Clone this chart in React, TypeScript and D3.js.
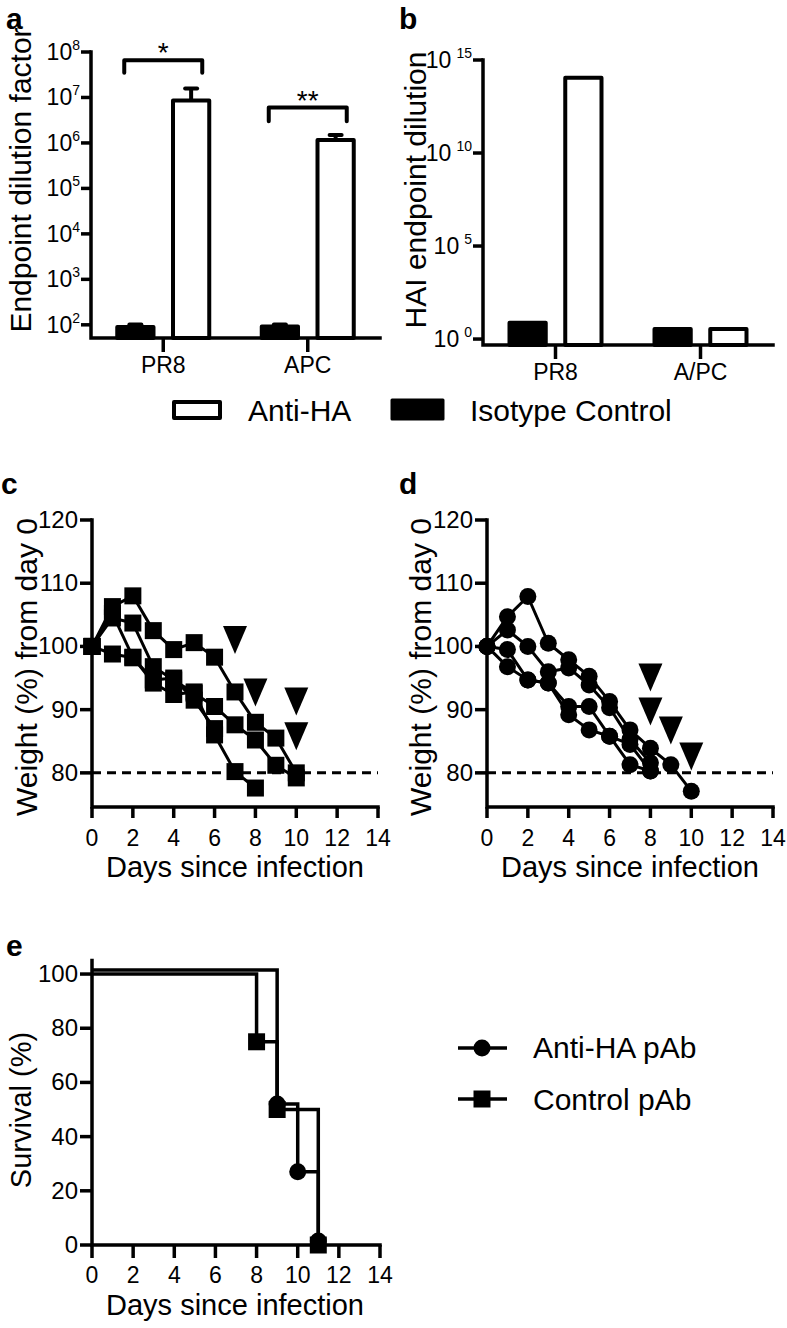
import React from "react";
import * as d3 from "d3";

const FONT = "'Liberation Sans', Arial, Helvetica, sans-serif";

// panel a: endpoint titres (log)
const titerGroups = ["PR8", "APC"];
const barSeries = ["Isotype Control", "Anti-HA"];
const titerIsotype = [90, 92];
const titerIsotypeErr = [102, 102];
const titerAntiHA = [8.6e6, 1.16e6];
const titerAntiHAErr = [1.58e7, 1.5e6];
const titerExponents = [2, 3, 4, 5, 6, 7, 8];
const titerStars = ["*", "**"];
const titerBracketTop = [6.6e7, 6.0e6];
const titerBracketFoot = [3.5e7, 3.0e6];

// panel b: HAI titres (log)
const haiGroups = ["PR8", "A/PC"];
const haiIsotype = [7.5, 3.5];
const haiAntiHA = [1.1e14, 3.5];
const haiExponents = [0, 5, 10, 15];

// panels c, d: weight per mouse
const days = [0, 1, 2, 3, 4, 5, 6, 7, 8, 9, 10];
const dayTicks = [0, 2, 4, 6, 8, 10, 12, 14];
const weightTicks = [80, 90, 100, 110, 120];
const weightCutoff = 80;
const controlMice = [
  [100, 106.3, 108, 102.5, 99.5, 100.6, 98.3, 92.8, 88.0, 85.5, 80],
  [100, 104.5, 103.7, 96.8, 94.7, 92.6, 90.5, 87.6, 85.2, 81.2, 79.2],
  [100, 105.2, 98.3, 94.2, 92.4, 92.8, 86.0, 80.2, 77.6],
  [100, 98.8, 98.2, 94.7, 95.0, 91.5, 87.0],
];
const controlDeathDays = [7, 8, 10, 10];
const controlDeathMarks = [101, 92.7, 91.3, 85.8];
const antiHAMice = [
  [100, 104.7, 107.9, 100.5, 97.9, 95.3, 91.3, 86.8, 83.9, 81.3, 77.1],
  [100, 102.6, 100.0, 96.0, 96.6, 93.9, 90.3, 85.3, 81.6],
  [100, 99.5, 94.7, 94.2, 90.5, 90.5, 85.8, 81.3, 80.3],
  [100, 96.8, 94.7, 94.2, 89.2, 86.8, 85.8, 84.5, 80.3],
];
const antiHADeathDays = [8, 8, 9, 10];
const antiHADeathMarks = [95.1, 89.7, 86.7, 82.6];

// panel e: survival
const survDaysAntiHA = [0, 9, 10, 11];
const survAntiHA = [101.5, 52, 27, 1.5];
const survDaysControl = [0, 8, 9, 11];
const survControl = [100, 75, 50, 0];
const survivalTicks = [0, 20, 40, 60, 80, 100];

const AX = 3.5;
const squarePath = d3.symbol(d3.symbolSquare, 17 * 17)() as string;
const circlePath = d3.symbol(d3.symbolCircle, Math.PI * 8.5 * 8.5)() as string;
const trianglePath = "M-12,-14L12,-14L0,14Z";

function Letter({ x, y, t }: any) {
  return (
    <text x={x} y={y} fontSize={30} fontWeight="bold">
      {t}
    </text>
  );
}

function BarPanel({ left, right, bottom, top, lo, hi, groups, iso, anti, isoErr, antiErr, exponents, gap, catY, extra }: any) {
  const x = d3.scaleBand<string>().domain(groups).range([left, right]);
  const inner = d3.scaleBand<string>().domain(barSeries).range([-46, 46]).paddingInner(0.35);
  const y = d3.scaleLog().domain([lo, hi]).range([bottom, top]);
  const bw = inner.bandwidth();
  return (
    <g>
      {groups.map((g: string, i: number) => {
        const cx = (x(g) as number) + x.bandwidth() / 2;
        const xi = cx + (inner(barSeries[0]) as number);
        const xa = cx + (inner(barSeries[1]) as number);
        return (
          <g key={g}>
            {isoErr && (
              <g stroke="#000" strokeWidth={4}>
                <line x1={xi + bw / 2} x2={xi + bw / 2} y1={y(iso[i])} y2={y(isoErr[i])} />
                <line x1={xi + bw / 2 - 6} x2={xi + bw / 2 + 6} y1={y(isoErr[i])} y2={y(isoErr[i])} strokeLinecap="round" />
              </g>
            )}
            {antiErr && (
              <g stroke="#000" strokeWidth={4}>
                <line x1={xa + bw / 2} x2={xa + bw / 2} y1={y(anti[i])} y2={y(antiErr[i])} />
                <line x1={xa + bw / 2 - 6} x2={xa + bw / 2 + 6} y1={y(antiErr[i])} y2={y(antiErr[i])} strokeLinecap="round" />
              </g>
            )}
            <rect x={xi} y={y(iso[i])} width={bw} height={bottom - y(iso[i])} fill="#000" stroke="#000" strokeWidth={4} strokeLinejoin="round" />
            <rect x={xa} y={y(anti[i])} width={bw} height={bottom - y(anti[i])} fill="#fff" stroke="#000" strokeWidth={4} strokeLinejoin="round" />
            <line x1={cx} x2={cx} y1={bottom} y2={bottom + 14} stroke="#000" strokeWidth={AX} />
            <text x={cx} y={catY} textAnchor="middle" fontSize={23}>
              {g}
            </text>
            {extra && extra(cx, y, i)}
          </g>
        );
      })}
      <path d={`M${left},${top}V${bottom}H${right}`} fill="none" stroke="#000" strokeWidth={AX} strokeLinecap="square" />
      {exponents.map((e: number) => {
        const ty = y(10 ** e);
        return (
          <g key={e}>
            <line x1={left - 10} x2={left} y1={ty} y2={ty} stroke="#000" strokeWidth={AX} />
            <text x={left - 11} y={ty + 8} textAnchor="end" fontSize={23}>
              10
              <tspan dx={gap} dy={-10} fontSize={14}>
                {e}
              </tspan>
            </text>
          </g>
        );
      })}
    </g>
  );
}

function WeightPanel({ ox, mice, deathDays, deathMarks, marker, titleX }: any) {
  const x = d3.scaleLinear().domain([0, 14]).range([ox, ox + 286]);
  const y = d3.scaleLinear().domain([74.6, 120]).range([807, 520]);
  const line = d3
    .line<number>()
    .x((_, i) => x(days[i]))
    .y((d) => y(d));
  return (
    <g>
      <line x1={x(0)} x2={x(14)} y1={y(weightCutoff)} y2={y(weightCutoff)} stroke="#000" strokeWidth={3} strokeDasharray="9 6" />
      <path d={`M${ox},${y(120)}V${y.range()[0]}H${x(14)}`} fill="none" stroke="#000" strokeWidth={AX} strokeLinecap="square" />
      {weightTicks.map((t) => (
        <g key={t}>
          <line x1={ox - 12} x2={ox} y1={y(t)} y2={y(t)} stroke="#000" strokeWidth={AX} />
          <text x={ox - 14} y={y(t) + 8} textAnchor="end" fontSize={24}>
            {t}
          </text>
        </g>
      ))}
      {dayTicks.map((t) => (
        <g key={t}>
          <line x1={x(t)} x2={x(t)} y1={807} y2={818} stroke="#000" strokeWidth={AX} />
          <text x={x(t)} y={846} textAnchor="middle" fontSize={23}>
            {t}
          </text>
        </g>
      ))}
      <text x={ox + 143} y={877} textAnchor="middle" fontSize={29}>
        Days since infection
      </text>
      <text transform={`translate(${titleX},667) rotate(-90)`} textAnchor="middle" fontSize={30}>
        Weight (%) from day 0
      </text>
      {mice.map((m: number[], k: number) => (
        <path key={k} d={line(m) as string} fill="none" stroke="#000" strokeWidth={3} strokeLinejoin="round" />
      ))}
      {mice.map((m: number[], k: number) =>
        m.map((v, i) => <path key={`${k}-${i}`} d={marker} transform={`translate(${x(days[i])},${y(v)})`} fill="#000" />)
      )}
      {deathDays.map((d: number, i: number) => (
        <path key={i} d={trianglePath} transform={`translate(${x(d)},${y(deathMarks[i])})`} fill="#000" />
      ))}
    </g>
  );
}

function SurvivalPanel() {
  const x = d3.scaleLinear().domain([0, 14]).range([92, 380]);
  const y = d3.scaleLinear().domain([0, 105]).range([1245, 960.5]);
  const step = d3
    .line<[number, number]>()
    .x((d) => x(d[0]))
    .y((d) => y(d[1]))
    .curve(d3.curveStepAfter);
  const anti = survDaysAntiHA.map((d, i) => [d, survAntiHA[i]] as [number, number]);
  const ctrl = survDaysControl.map((d, i) => [d, survControl[i]] as [number, number]);
  return (
    <g>
      <path d={step(anti) as string} fill="none" stroke="#000" strokeWidth={AX} />
      <path d={step(ctrl) as string} fill="none" stroke="#000" strokeWidth={AX} />
      {anti.slice(1).map((p, i) => (
        <path key={`a${i}`} d={circlePath} transform={`translate(${x(p[0])},${y(p[1])})`} fill="#000" />
      ))}
      {ctrl.slice(1).map((p, i) => (
        <path key={`c${i}`} d={squarePath} transform={`translate(${x(p[0])},${y(p[1])})`} fill="#000" />
      ))}
      <path d={`M92,${y(105)}V${y(0)}H${x(14)}`} fill="none" stroke="#000" strokeWidth={AX} strokeLinecap="square" />
      {survivalTicks.map((t) => (
        <g key={t}>
          <line x1={80} x2={92} y1={y(t)} y2={y(t)} stroke="#000" strokeWidth={AX} />
          <text x={78} y={y(t) + 8} textAnchor="end" fontSize={24}>
            {t}
          </text>
        </g>
      ))}
      {dayTicks.map((t) => (
        <g key={t}>
          <line x1={x(t)} x2={x(t)} y1={y(0)} y2={y(0) + 13} stroke="#000" strokeWidth={AX} />
          <text x={x(t)} y={1283} textAnchor="middle" fontSize={23}>
            {t}
          </text>
        </g>
      ))}
      <text x={235} y={1315} textAnchor="middle" fontSize={29}>
        Days since infection
      </text>
      <text transform="translate(31,1110) rotate(-90)" textAnchor="middle" fontSize={29}>
        Survival (%)
      </text>
      {/* legend */}
      <line x1={458} x2={507} y1={1048} y2={1048} stroke="#000" strokeWidth={AX} />
      <path d={circlePath} transform="translate(482,1048)" fill="#000" />
      <text x={533} y={1058} fontSize={30}>
        Anti-HA pAb
      </text>
      <line x1={458} x2={507} y1={1099} y2={1099} stroke="#000" strokeWidth={AX} />
      <path d={squarePath} transform="translate(482,1099)" fill="#000" />
      <text x={533} y={1110} fontSize={30}>
        Control pAb
      </text>
    </g>
  );
}

export default function App() {
  const stars = (cx: number, y: any, i: number) => {
    const yt = y(titerBracketTop[i]);
    const yf = y(titerBracketFoot[i]);
    return (
      <g>
        <path d={`M${cx - 39},${yf}V${yt}H${cx + 39}V${yf}`} fill="none" stroke="#000" strokeWidth={4} strokeLinecap="round" strokeLinejoin="round" />
        <text x={cx} y={yt + 2} textAnchor="middle" fontSize={28}>
          {titerStars[i]}
        </text>
      </g>
    );
  };
  return (
    <svg width={787} height={1328} style={{ position: "absolute", left: 0, top: 0 }} fontFamily={FONT}>
      <rect width={787} height={1328} fill="#fff" />
      <Letter x={6} y={29} t="a" />
      <Letter x={399} y={29} t="b" />
      <Letter x={1} y={494} t="c" />
      <Letter x={399} y={494} t="d" />
      <Letter x={6} y={956} t="e" />

      <BarPanel left={91} right={380} bottom={338} top={52} lo={10 ** 1.71} hi={1e8} groups={titerGroups}
        iso={titerIsotype} anti={titerAntiHA} isoErr={titerIsotypeErr} antiErr={titerAntiHAErr}
        exponents={titerExponents} gap={0} catY={373} extra={stars} />
      <text transform="translate(31,180) rotate(-90)" textAnchor="middle" fontSize={30}>
        Endpoint dilution factor
      </text>

      <BarPanel left={483} right={773} bottom={345} top={60} lo={10 ** -0.32} hi={1e15} groups={haiGroups}
        iso={haiIsotype} anti={haiAntiHA} exponents={haiExponents} gap={5} catY={380} />
      <text transform="translate(426,190) rotate(-90)" textAnchor="middle" fontSize={30}>
        HAI endpoint dilution
      </text>

      {/* shared legend for a and b */}
      <rect x={174} y={402} width={46} height={16} fill="#fff" stroke="#000" strokeWidth={4} strokeLinejoin="round" />
      <text x={248} y={421} fontSize={30}>
        {barSeries[1]}
      </text>
      <rect x={392} y={400} width={51} height={19} fill="#000" stroke="#000" strokeWidth={3} strokeLinejoin="round" />
      <text x={470} y={421} fontSize={30}>
        {barSeries[0]}
      </text>

      <WeightPanel ox={92} mice={controlMice} deathDays={controlDeathDays} deathMarks={controlDeathMarks} marker={squarePath} titleX={37} />
      <WeightPanel ox={487} mice={antiHAMice} deathDays={antiHADeathDays} deathMarks={antiHADeathMarks} marker={circlePath} titleX={431} />

      <SurvivalPanel />
    </svg>
  );
}
